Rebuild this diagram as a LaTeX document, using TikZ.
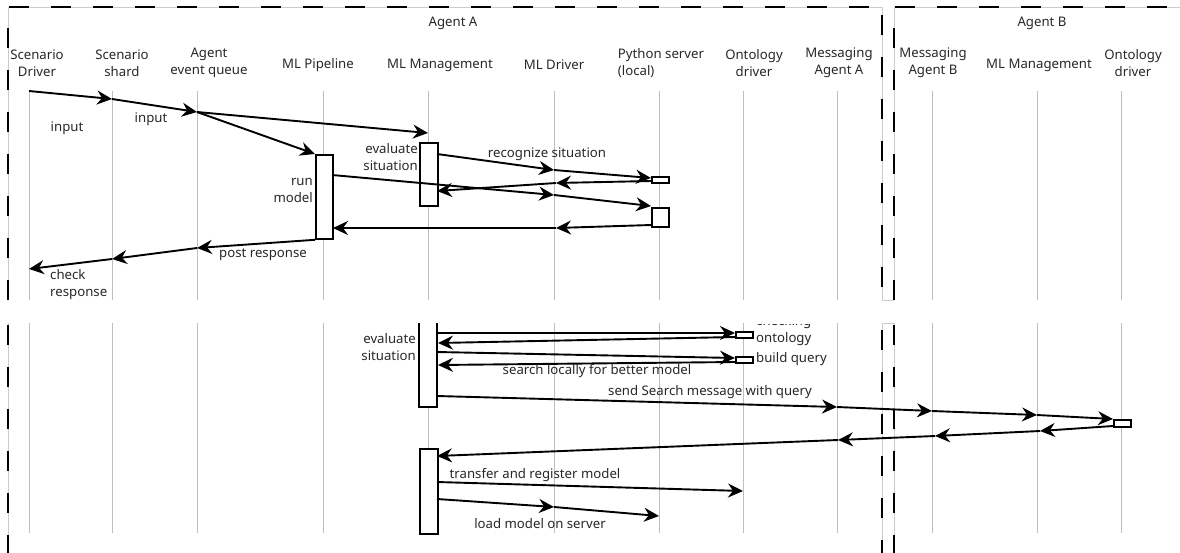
\documentclass[tikz,border=0pt]{standalone}
\usepackage{fontspec}
\setmainfont{Noto Sans}
\usetikzlibrary{arrows.meta}
\definecolor{txt}{RGB}{40,40,40}
\definecolor{life}{RGB}{190,190,190}
\tikzset{
  lbl/.style={font=\fontsize{13.2}{17}\selectfont, text=txt, inner sep=0pt, align=center},
  lifeline/.style={draw=life, line width=1pt},
  msg/.style={draw=black, line width=1.9pt, -{Stealth[length=15pt,width=14pt,inset=5pt]}},
  actbox/.style={draw=black, fill=white, line width=1.8pt},
  framegray/.style={draw=gray!40, line width=0.8pt},
  framedash/.style={draw=black, line width=2.6pt, dash pattern=on 20pt off 22pt},
}
\begin{document}
\begin{tikzpicture}[x=1pt,y=-1pt]
\useasboundingbox (0,0) rectangle (1180,552);
\clip (0,0) rectangle (1180,552);
\fill[white] (0,0) rectangle (1180,552);

% ---------- frames ----------
\draw[framegray] (8,300) -- (8,7) -- (882,7) -- (882,300);
\draw[framegray] (894,300) -- (894,7) -- (1190,7);
\draw[framegray] (8,323) -- (8,560);
\draw[framegray] (882,323) -- (882,560);
\draw[framegray] (894,323) -- (894,560);
\draw[framegray] (882,300) -- (894,300);
\draw[framegray] (882,323) -- (894,323);
\draw[framedash] (8,300) -- (8,7) -- (882,7);
\draw[framedash] (882,15) -- (882,300);
\draw[framedash] (894,300) -- (894,7) -- (1190,7);
\draw[framedash] (8,325) -- (8,560);
\draw[framedash] (882,330) -- (882,560);
\draw[framedash] (894,325) -- (894,560);

\node[lbl] (agentA) at (453,23) {Agent A};
\node[lbl] (agentB) at (1042,23) {Agent B};

% ---------- headers ----------
\node[lbl] (hSD)  at (37,63)  {Scenario\\Driver};
\node[lbl] (hSS)  at (122,63) {Scenario\\shard};
\node[lbl] (hEQ)  at (209,63) {Agent\\event queue};
\node[lbl] (hMP)  at (318,65) {ML Pipeline};
\node[lbl] (hMM)  at (440,65) {ML Management};
\node[lbl] (hMD)  at (554,65) {ML Driver};
\node[lbl,align=left] (hPS) at (661,63) {Python server\\(local)};
\node[lbl] (hOD)  at (754,63) {Ontology\\driver};
\node[lbl] (hMA)  at (839,63) {Messaging\\Agent A};
\node[lbl] (hMB)  at (933,63) {Messaging\\Agent B};
\node[lbl] (hMM2) at (1039,65) {ML Management};
\node[lbl] (hOD2) at (1133,63) {Ontology\\driver};

% ---------- lifelines ----------
\foreach \x in {29,112,197,323,428,554,659,743,837,932,1037,1121}{
  \draw[lifeline] (\x,91) -- (\x,300);
  \draw[lifeline] (\x,323) -- (\x,533);
}

% ---------- top part ----------
\coordinate (sd1) at (29,91);
\coordinate (ss1) at (112,99);
\coordinate (eq1) at (197,112);
\coordinate (mm1) at (428,133);
\node[actbox, minimum width=17pt, minimum height=84pt, inner sep=0pt, anchor=north west] (mpBox) at (315,154) {};
\node[actbox, minimum width=18pt, minimum height=63pt, inner sep=0pt, anchor=north west] (mmBox) at (419,142) {};
\node[actbox, minimum width=17pt, minimum height=6pt, inner sep=0pt, anchor=north west] (psBox1) at (651,176) {};
\node[actbox, minimum width=17pt, minimum height=19pt, inner sep=0pt, anchor=north west] (psBox2) at (651,207) {};

\draw[msg] (sd1) -- (ss1);
\draw[msg] (ss1) -- (eq1);
\draw[msg] (eq1) -- (mm1);
\draw[msg] (eq1) -- (mpBox.north west);

\coordinate (mmA) at (437,154);
\coordinate (mdA) at (554,170);
\coordinate (psA) at (651,178);
\coordinate (psB) at (651,181);
\coordinate (mdB) at (556,183);
\coordinate (mmB) at (437,191);
\coordinate (mpA) at (332,175);
\coordinate (mdC) at (554,195);
\coordinate (psC) at (651,206);
\coordinate (psD) at (651,225);
\coordinate (mdD) at (556,228);
\coordinate (mpB) at (333,228);
\coordinate (eqB) at (197,248);
\coordinate (ssB) at (112,259);
\coordinate (sdB) at (29,269);

\draw[msg] (mmA) -- (mdA);
\draw[msg] (mdA) -- (psA);
\draw[msg] (psB) -- (mdB);
\draw[msg] (mdB) -- (mmB);
\draw[msg] (mpA) -- (mdC);
\draw[msg] (mdC) -- (psC);
\draw[msg] (psD) -- (mdD);
\draw[msg] (mdD) -- (mpB);
\draw[msg] (mpBox.south west) -- (eqB);
\draw[msg] (eqB) -- (ssB);
\draw[msg] (ssB) -- (sdB);

\node[lbl] (lIn1) at (67,128) {input};
\node[lbl] (lIn2) at (151,119) {input};
\node[lbl, align=right, anchor=east] (lEv1) at (418,157.5) {evaluate\\situation};
\node[lbl, align=right, anchor=east] (lRun) at (313,190.5) {run\\model};
\node[lbl] (lRec) at (547,154) {recognize situation};
\node[lbl] (lPost) at (263,255) {post response};
\node[lbl, align=left, anchor=west] (lChk) at (50,284.5) {check\\response};

% ---------- bottom part ----------
\begin{scope}
\clip (0,324) rectangle (1180,560);
\node[lbl, align=left, anchor=west] (lChkOnt) at (756,330.5) {checking\\ontology};
\end{scope}
\draw[actbox] (419,323) -- (419,407) -- (437,407) -- (437,323);
\node[actbox, minimum width=17pt, minimum height=6pt, inner sep=0pt, anchor=north west] (odBox1) at (735,331) {};
\node[actbox, minimum width=17pt, minimum height=6pt, inner sep=0pt, anchor=north west] (odBox2) at (735,356) {};
\node[actbox, minimum width=17pt, minimum height=7pt, inner sep=0pt, anchor=north west] (od2Box) at (1113,419) {};
\node[actbox, minimum width=18pt, minimum height=85pt, inner sep=0pt, anchor=north west] (mmBox3) at (419,448) {};

\coordinate (b1) at (437,333);
\coordinate (b2) at (735,333);
\coordinate (b3) at (735,337);
\coordinate (b4) at (438,343);
\coordinate (b5) at (437,352);
\coordinate (b6) at (735,358);
\coordinate (b7) at (735,362);
\coordinate (b8) at (438,365);
\coordinate (b9) at (437,396);
\coordinate (maA) at (837,407);
\coordinate (mbA) at (932,411);
\coordinate (m2A) at (1037,415);
\coordinate (o2A) at (1113,419);
\coordinate (o2B) at (1113,426);
\coordinate (m2B) at (1040,431);
\coordinate (mbB) at (935,436);
\coordinate (maB) at (838,440);
\coordinate (mmC) at (437,456);
\coordinate (t1) at (437,482);
\coordinate (t2) at (743,491);
\coordinate (l1) at (437,499);
\coordinate (l2) at (554,507);
\coordinate (l3) at (659,516);

\draw[msg] (b1) -- (b2);
\draw[msg] (b3) -- (b4);
\draw[msg] (b5) -- (b6);
\draw[msg] (b7) -- (b8);
\draw[msg] (b9) -- (maA);
\draw[msg] (maA) -- (mbA);
\draw[msg] (mbA) -- (m2A);
\draw[msg] (m2A) -- (o2A);
\draw[msg] (o2B) -- (m2B);
\draw[msg] (m2B) -- (mbB);
\draw[msg] (mbB) -- (maB);
\draw[msg] (maB) -- (mmC);
\draw[msg] (t1) -- (t2);
\draw[msg] (l1) -- (l2);
\draw[msg] (l2) -- (l3);

\node[lbl, align=right, anchor=east] (lEv2) at (416,347) {evaluate\\situation};
\node[lbl, anchor=west] (lBuild) at (756,359) {build query};
\node[lbl] (lSearch) at (597,371) {search locally for better model};
\node[lbl] (lSend) at (710,392) {send Search message with query};
\node[lbl] (lTrans) at (535,475) {transfer and register model};
\node[lbl] (lLoad) at (540,524) {load model on server};
\end{tikzpicture}
\end{document}
